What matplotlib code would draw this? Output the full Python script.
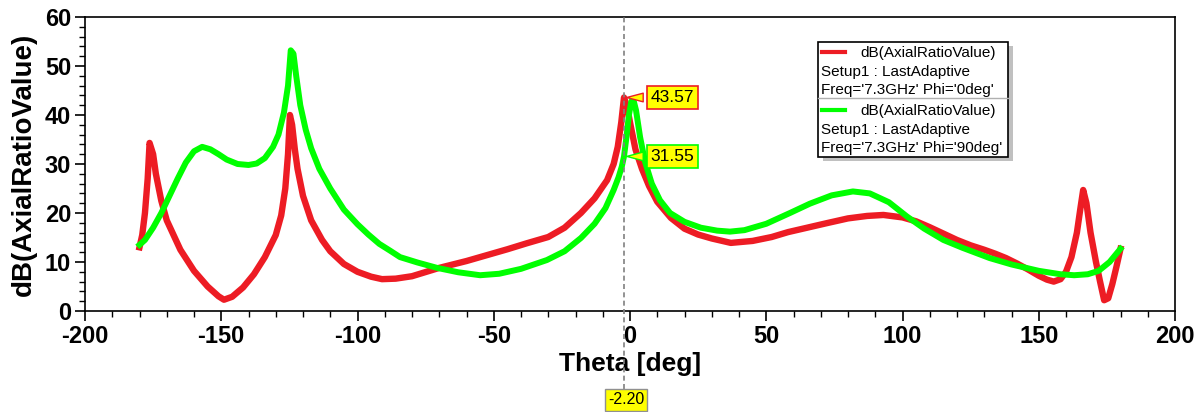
import matplotlib
matplotlib.use("Agg")
import matplotlib.pyplot as plt
from matplotlib.patches import Rectangle
from matplotlib.lines import Line2D
from matplotlib.ticker import MultipleLocator

plt.rcParams['font.family'] = ['Liberation Sans', 'DejaVu Sans']
plt.rcParams['axes.unicode_minus'] = False

# Phi = 0deg (red)
theta_0 = [-180, -179, -178, -177, -176.3, -175, -174, -172, -170, -165, -160, -155,
           -151, -149, -146, -142, -138, -134, -130, -128, -126.5, -125.5, -124.8,
           -124, -123, -122, -120, -117, -113, -110, -105, -100, -95, -91, -86,
           -80, -70, -60, -55, -45, -38, -30, -24, -18, -13, -8.4, -6, -4.5, -3.2,
           -2.2, -1, 0, 2, 4.4, 7, 10, 15, 20, 25, 30, 37, 45, 52, 58, 65, 72, 80,
           87, 93, 100, 105, 110, 115, 120, 125, 130, 134, 138, 142, 146, 150, 153,
           155.5, 158, 160, 162, 164, 165.3, 166.3, 167.5, 169, 171, 172.5, 174,
           175.5, 177, 178.5, 180]
ar_0 = [13.0, 15.5, 20, 27, 34.3, 32, 28, 22.5, 18.5, 12.5, 8.2, 5.0,
        3.0, 2.3, 2.9, 4.8, 7.5, 11, 15.5, 19.5, 25, 32, 40,
        38, 33, 29, 23.5, 18.5, 14.5, 12.2, 9.6, 8.0, 7.0, 6.5, 6.6,
        7.1, 8.8, 10.2, 11.0, 12.6, 13.8, 15.1, 17.0, 20.0, 23.0, 26.7, 30, 33.5, 38.5,
        43.57, 41.5, 38.5, 33, 29, 25.5, 22.3, 19.0, 16.8, 15.6, 14.8, 13.9, 14.3, 15.1, 16.1, 17.0, 17.9, 18.9,
        19.4, 19.6, 19.1, 18.3, 17.1, 15.8, 14.5, 13.4, 12.5, 11.7, 10.8, 9.7, 8.5, 7.2, 6.4,
        6.0, 6.5, 8.0, 11, 16, 21, 24.7, 22, 16, 10, 6, 2.2,
        2.6, 5.5, 9, 12.7]

# Phi = 90deg (green)
theta_90 = [-180, -178, -175, -172, -169, -166, -163, -160, -157, -154, -151, -148,
            -144, -140, -137, -134, -131, -129, -127, -125.5, -124.5, -123.5, -122.5,
            -121, -119, -117, -114, -110, -105, -100, -96, -92, -88, -84.4, -78,
            -70.8, -63, -55, -48, -40, -30.5, -24, -18, -13, -9, -6, -4.2, -3,
            -2.2, -1.3, -0.4, 0.5, 1.3, 2.2, 3.7, 5.5, 8, 11, 14.7, 20, 26, 32,
            36.7, 42, 50, 58.7, 66, 74, 81.8, 88, 95, 101.6, 108, 115, 122, 132,
            140, 150, 158, 163, 168, 172, 176, 180]
ar_90 = [13.5, 14.5, 17, 20, 23.5, 27, 30.3, 32.6, 33.5, 33.0, 32.0, 30.9,
         30.0, 29.8, 30.1, 31.2, 33.5, 36, 40.5, 46, 53.2, 52.5, 48,
         42, 37, 33.2, 29, 25, 20.7, 17.7, 15.6, 13.7, 12.3, 11.0, 9.9,
         8.8, 7.9, 7.3, 7.6, 8.6, 10.4, 12.2, 14.9, 17.8, 21.0, 24.7, 27.3, 29.5,
         31.55, 35.5, 40, 42.8, 43, 41, 35.5, 30.5, 26, 22.6, 20.0, 18.2, 17.0, 16.4,
         16.2, 16.5, 17.8, 20.0, 21.9, 23.6, 24.4, 24.0, 22.2, 19.3, 16.8, 14.5, 12.9, 10.8,
         9.5, 8.2, 7.5, 7.3, 7.5, 8.2, 10.0, 12.7]

marker_theta = -2.20
marker_red = 43.57
marker_green = 31.55

red = '#ED1C24'
green = '#00FF00'

W, H = 1202, 412
fig = plt.figure(figsize=(W / 100, H / 100), dpi=100)
ax = fig.add_axes([85 / W, 1 - 311 / H, 1090 / W, 294 / H])


def fx(x):
    return x / W


def fy(y):
    return 1 - y / H


ax.plot(theta_0, ar_0, color=red, lw=4.6, solid_joinstyle='round', zorder=3)
ax.plot(theta_90, ar_90, color=green, lw=4.3, solid_joinstyle='round', zorder=4)

ax.set_xlim(-200, 200)
ax.set_ylim(0, 60)
ax.xaxis.set_major_locator(MultipleLocator(50))
ax.xaxis.set_minor_locator(MultipleLocator(10))
ax.yaxis.set_major_locator(MultipleLocator(10))
ax.yaxis.set_minor_locator(MultipleLocator(2))
ax.tick_params(which='major', direction='out', length=7, width=1.2, labelsize=17, pad=3)
ax.tick_params(which='minor', direction='out', length=4, width=1)
for lab in ax.get_xticklabels() + ax.get_yticklabels():
    lab.set_fontweight('bold')
for s in ax.spines.values():
    s.set_linewidth(1.2)

ax.set_xlabel('Theta [deg]', fontsize=19, fontweight='bold', labelpad=3)
ax.set_ylabel('dB(AxialRatioValue)', fontsize=20, fontweight='bold', labelpad=6)

# marker line
ax.axvline(marker_theta, ymin=-0.265, ymax=1, color='#808080', lw=1.2,
           ls=(0, (3, 2)), clip_on=False, zorder=5)

# marker value labels
ax.annotate(f'{marker_red:.2f}', xy=(marker_theta, marker_red), xytext=(19, 0),
            textcoords='offset points', ha='left', va='center', fontsize=12.5,
            bbox=dict(boxstyle='square,pad=0.22', fc='yellow', ec=red, lw=1.2),
            arrowprops=dict(arrowstyle='wedge,tail_width=0.5,shrink_factor=0.5',
                            fc='yellow', ec=red, lw=1.0),
            zorder=6)
ax.annotate(f'{marker_green:.2f}', xy=(marker_theta, marker_green), xytext=(19, 0),
            textcoords='offset points', ha='left', va='center', fontsize=12.5,
            bbox=dict(boxstyle='square,pad=0.22', fc='yellow', ec=green, lw=1.2),
            arrowprops=dict(arrowstyle='wedge,tail_width=0.5,shrink_factor=0.5',
                            fc='yellow', ec=green, lw=1.0),
            zorder=6)

# x position label below axis
fig.text(fx(626), fy(400), f'{marker_theta:.2f}', ha='center', va='center', fontsize=11.5,
         bbox=dict(boxstyle='square,pad=0.2', fc='yellow', ec='#909090', lw=1))

# legend box (drawn by hand)
lx0, ly0, lx1, ly1 = 818, 42, 1008, 157
fig.patches.append(Rectangle((fx(lx0 + 5), fy(ly1 + 4)), (lx1 - lx0) / W, (ly1 - ly0) / H,
                             transform=fig.transFigure, fc='#c0c0c0', ec='none', zorder=7))
fig.patches.append(Rectangle((fx(lx0), fy(ly1)), (lx1 - lx0) / W, (ly1 - ly0) / H,
                             transform=fig.transFigure, fc='white', ec='black', lw=1.2, zorder=8))
fig.lines.append(Line2D([fx(lx0), fx(lx1)], [fy(98), fy(98)], transform=fig.transFigure,
                        color='#b0b0b0', lw=1, zorder=9))
legend_rows = [
    (red, 0, "Freq='7.3GHz' Phi='0deg'"),
    (green, 58, "Freq='7.3GHz' Phi='90deg'"),
]
for col, dy, freq in legend_rows:
    fig.lines.append(Line2D([fx(822), fx(845)], [fy(52 + dy), fy(52 + dy)],
                            transform=fig.transFigure, color=col, lw=3, zorder=9))
    fig.text(fx(860), fy(53 + dy), 'dB(AxialRatioValue)', fontsize=11, va='center', zorder=9)
    fig.text(fx(821), fy(72 + dy), 'Setup1 : LastAdaptive', fontsize=11, va='center', zorder=9)
    fig.text(fx(821), fy(90 + dy), freq, fontsize=11, va='center', zorder=9)

fig.savefig('out.png', dpi=100)
